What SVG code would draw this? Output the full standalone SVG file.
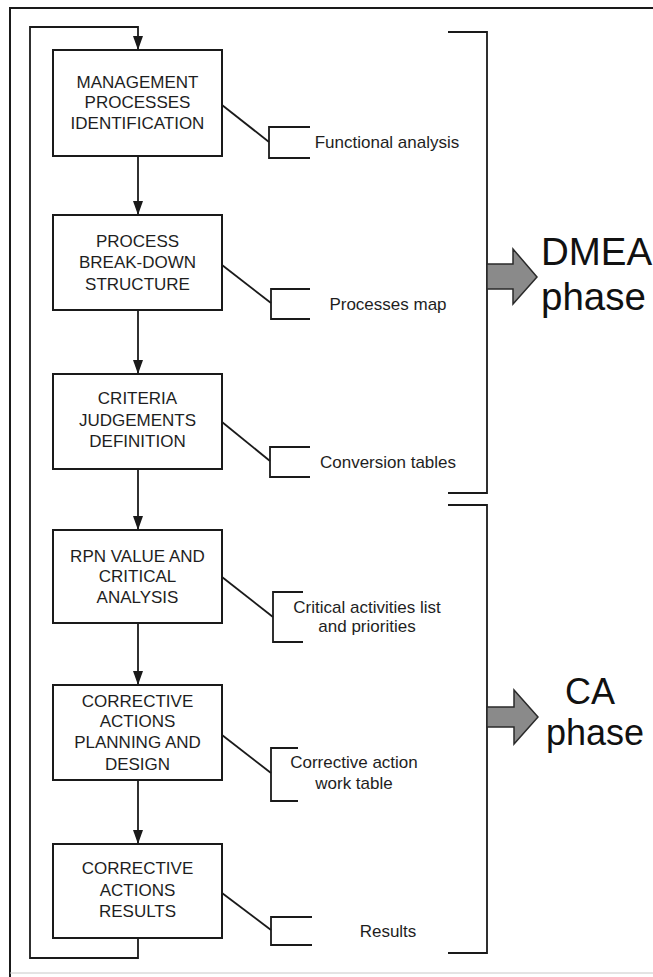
<svg xmlns="http://www.w3.org/2000/svg" width="653" height="977" viewBox="0 0 653 977">
<defs>
<style>
.box{fill:#fff;stroke:#1a1a1a;stroke-width:2}
.ln{fill:none;stroke:#1a1a1a;stroke-width:1.8}
.bt{font-family:"Liberation Sans",Arial,sans-serif;font-size:17px;fill:#1e1e1e;text-anchor:middle}
.st{font-family:"Liberation Sans",Arial,sans-serif;font-size:17px;fill:#1e1e1e;text-anchor:middle}
.ph{font-family:"Liberation Sans",Arial,sans-serif;fill:#111}
.garr{fill:#8a8a8a;stroke:#2a2a2a;stroke-width:1.5}
</style>
<marker id="ah" viewBox="0 0 14 10" refX="14" refY="5" markerWidth="14" markerHeight="10" orient="auto" markerUnits="userSpaceOnUse">
<path d="M0,0 L14,5 L0,10 z" fill="#1a1a1a"/>
</marker>
</defs>
<rect width="653" height="977" fill="#fff"/>
<g id="frame">
<path d="M653,8 H10 V977" fill="none" stroke="#1a1a1a" stroke-width="2"/>
<line x1="10" y1="973" x2="653" y2="973" stroke="#c8c8c8" stroke-width="1"/>
</g>
<g id="connectors">
<path class="ln" d="M138,938 V958 H30 V27 H138 V50" marker-end="url(#ah)"/>
<path class="ln" d="M138,156 V215" marker-end="url(#ah)"/>
<path class="ln" d="M138,310 V374" marker-end="url(#ah)"/>
<path class="ln" d="M138,469 V530" marker-end="url(#ah)"/>
<path class="ln" d="M138,623 V685" marker-end="url(#ah)"/>
<path class="ln" d="M138,780 V844" marker-end="url(#ah)"/>
<path class="ln" d="M222,105 L269,142"/>
<path class="ln" d="M222,265 L271,303"/>
<path class="ln" d="M222,422 L270,461"/>
<path class="ln" d="M222,577 L273,617"/>
<path class="ln" d="M222,735 L271,773"/>
<path class="ln" d="M222,893 L271,930"/>
</g>
<g id="n1"><rect class="box" x="53" y="50" width="169" height="106"/>
<text class="bt" x="137.5" y="88">MANAGEMENT</text><text class="bt" x="137.5" y="108">PROCESSES</text><text class="bt" x="137.5" y="129">IDENTIFICATION</text></g>
<g id="n2"><rect class="box" x="53" y="215" width="169" height="95"/>
<text class="bt" x="137.5" y="247">PROCESS</text><text class="bt" x="137.5" y="268">BREAK-DOWN</text><text class="bt" x="137.5" y="290">STRUCTURE</text></g>
<g id="n3"><rect class="box" x="53" y="374" width="169" height="95"/>
<text class="bt" x="137.5" y="404">CRITERIA</text><text class="bt" x="137.5" y="426">JUDGEMENTS</text><text class="bt" x="137.5" y="447">DEFINITION</text></g>
<g id="n4"><rect class="box" x="53" y="530" width="169" height="93"/>
<text class="bt" x="137.5" y="562">RPN VALUE AND</text><text class="bt" x="137.5" y="582">CRITICAL</text><text class="bt" x="137.5" y="603">ANALYSIS</text></g>
<g id="n5"><rect class="box" x="53" y="685" width="169" height="95"/>
<text class="bt" x="137.5" y="707">CORRECTIVE</text><text class="bt" x="137.5" y="727">ACTIONS</text><text class="bt" x="137.5" y="748">PLANNING AND</text><text class="bt" x="137.5" y="770">DESIGN</text></g>
<g id="n6"><rect class="box" x="53" y="844" width="169" height="94"/>
<text class="bt" x="137.5" y="874">CORRECTIVE</text><text class="bt" x="137.5" y="896">ACTIONS</text><text class="bt" x="137.5" y="917">RESULTS</text></g>
<g id="o1"><path class="ln" d="M310,127 H269 V158 H310"/><text class="st" x="387" y="148">Functional analysis</text></g>
<g id="o2"><path class="ln" d="M310,289 H271 V319 H310"/><text class="st" x="388" y="310">Processes map</text></g>
<g id="o3"><path class="ln" d="M310,447 H270 V477 H310"/><text class="st" x="388" y="468">Conversion tables</text></g>
<g id="o4"><path class="ln" d="M303,592 H273 V642 H303"/><text class="st" x="367" y="613">Critical activities list</text><text class="st" x="367" y="632">and priorities</text></g>
<g id="o5"><path class="ln" d="M298,748 H271 V801 H298"/><text class="st" x="354" y="768">Corrective action</text><text class="st" x="354" y="789">work table</text></g>
<g id="o6"><path class="ln" d="M312,917 H271 V945 H312"/><text class="st" x="388" y="937">Results</text></g>
<g id="dmea">
<path class="ln" d="M448,32 H487 V493 H448" stroke-width="2"/>
<path class="garr" d="M487,264 H513 V249 L537,277 L513,304 V289 H487 z"/>
<text class="ph" x="541" y="265" font-size="38.5">DMEA</text>
<text class="ph" x="541" y="310" font-size="38.5">phase</text>
</g>
<g id="ca">
<path class="ln" d="M448,505 H487 V953 H448" stroke-width="2"/>
<path class="garr" d="M487,707 H514 V690 L538,717 L514,744 V727 H487 z"/>
<text class="ph" x="590" y="704" font-size="36" text-anchor="middle">CA</text>
<text class="ph" x="595" y="745" font-size="36" text-anchor="middle">phase</text>
</g>
</svg>
